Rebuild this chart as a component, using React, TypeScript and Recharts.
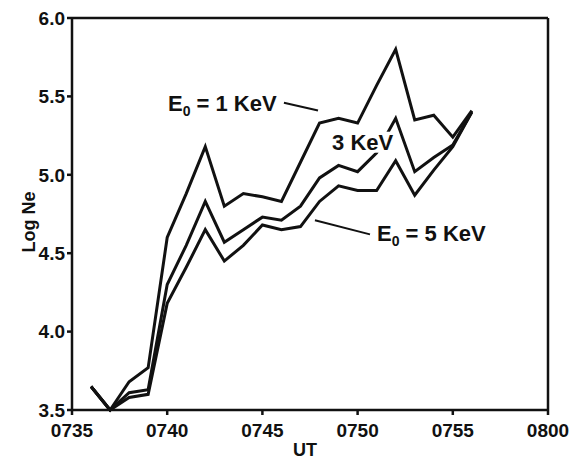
import { LineChart, Line, XAxis, YAxis, ReferenceLine, ReferenceDot, Label } from 'recharts';

// minutes after 0735 UT
const minutes = [1, 2, 3, 4, 5, 6, 7, 8, 9, 10, 11, 12, 13, 14, 15, 16, 17, 18, 19, 20, 21];
const logNe1KeV = [3.65, 3.5, 3.68, 3.77, 4.6, 4.88, 5.18, 4.8, 4.88, 4.86, 4.83, 5.08, 5.33, 5.36, 5.33, 5.57, 5.8, 5.35, 5.38, 5.24, 5.41];
const logNe3KeV = [3.65, 3.5, 3.61, 3.63, 4.3, 4.55, 4.83, 4.57, 4.65, 4.73, 4.71, 4.8, 4.98, 5.06, 5.02, 5.14, 5.36, 5.02, 5.11, 5.19, 5.4];
const logNe5KeV = [3.65, 3.5, 3.58, 3.6, 4.18, 4.41, 4.65, 4.45, 4.55, 4.68, 4.65, 4.67, 4.83, 4.93, 4.9, 4.9, 5.09, 4.87, 5.03, 5.18, 5.4];

const xTicks = [0, 5, 10, 15, 20, 25];
const xTickLabels = ['0735', '0740', '0745', '0750', '0755', '0800'];
const yTicks = [3.5, 4, 4.5, 5, 5.5, 6];

const data = minutes.map((t, i) => ({
    t,
    e1: logNe1KeV[i],
    e3: logNe3KeV[i],
    e5: logNe5KeV[i],
}));

const font = '"Liberation Sans", Arial, Helvetica, sans-serif';
const ink = '#111';

const EnergyLabel = ({ cx, cy, energy }: any) => (
    <text x={cx} y={cy} fontFamily={font} fontWeight="bold" fontSize={22} fill={ink}>
        E<tspan fontSize={14} dy={5}>0</tspan>
        <tspan dy={-5}>{` = ${energy} KeV`}</tspan>
    </text>
);

const BoxedLabel = ({ cx, cy }: any) => (
    <g>
        <rect x={cx - 2} y={cy - 18} width={66} height={21} fill="#fff" />
        <text x={cx} y={cy} fontFamily={font} fontWeight="bold" fontSize={22} fill={ink}>
            3 KeV
        </text>
    </g>
);

const tickStyle = { fill: ink, fontSize: 19, fontWeight: 'bold', fontFamily: font };

export default function App() {
    return (
        <div style={{ position: 'absolute', left: 0, top: 0, background: '#fff' }}>
            <LineChart width={577} height={460} data={data} margin={{ top: 18, right: 29, bottom: 0, left: 0 }}>
                <XAxis
                    dataKey="t"
                    type="number"
                    domain={[0, 25]}
                    ticks={xTicks}
                    interval={0}
                    tickFormatter={(v) => xTickLabels[xTicks.indexOf(v)]}
                    stroke={ink}
                    strokeWidth={2.5}
                    tickSize={5}
                    tickMargin={9}
                    tick={tickStyle}
                    height={50}
                >
                    <Label
                        value="UT"
                        position="insideBottom"
                        offset={4}
                        dx={-5}
                        style={{ fill: ink, fontSize: 18, fontWeight: 'bold', fontFamily: font }}
                    />
                </XAxis>
                <YAxis
                    type="number"
                    domain={[3.5, 6]}
                    ticks={yTicks}
                    interval={0}
                    tickFormatter={(v) => v.toFixed(1)}
                    stroke={ink}
                    strokeWidth={2.5}
                    tickSize={5}
                    tickMargin={2}
                    tick={tickStyle}
                    width={72}
                >
                    <Label
                        content={({ viewBox }: any) => {
                            const x = viewBox.x + 35;
                            const y = viewBox.y + viewBox.height / 2 + 8;
                            return (
                                <text x={x} y={y} transform={`rotate(-90 ${x} ${y})`} textAnchor="middle" fontFamily={font} fontWeight="bold" fontSize={18} fill={ink}>
                                    Log Ne
                                </text>
                            );
                        }}
                    />
                </YAxis>

                {/* frame: top and right edges */}
                <ReferenceLine y={6} stroke={ink} strokeWidth={2.5} />
                <ReferenceLine x={25} stroke={ink} strokeWidth={2.5} />

                <Line type="linear" dataKey="e5" stroke={ink} strokeWidth={3} dot={false} isAnimationActive={false} />
                <Line type="linear" dataKey="e3" stroke={ink} strokeWidth={3} dot={false} isAnimationActive={false} />
                <Line type="linear" dataKey="e1" stroke={ink} strokeWidth={3} dot={false} isAnimationActive={false} />

                <ReferenceLine segment={[{ x: 11.13, y: 5.46 }, { x: 12.92, y: 5.41 }]} stroke={ink} strokeWidth={2} />
                <ReferenceLine segment={[{ x: 12.76, y: 4.71 }, { x: 15.65, y: 4.62 }]} stroke={ink} strokeWidth={2} />
                <ReferenceDot x={5.04} y={5.41} r={0} shape={(p: any) => <EnergyLabel {...p} energy={1} />} />
                <ReferenceDot x={13.66} y={5.16} r={0} shape={(p: any) => <BoxedLabel {...p} />} />
                <ReferenceDot x={16.02} y={4.58} r={0} shape={(p: any) => <EnergyLabel {...p} energy={5} />} />
            </LineChart>
        </div>
    );
}
